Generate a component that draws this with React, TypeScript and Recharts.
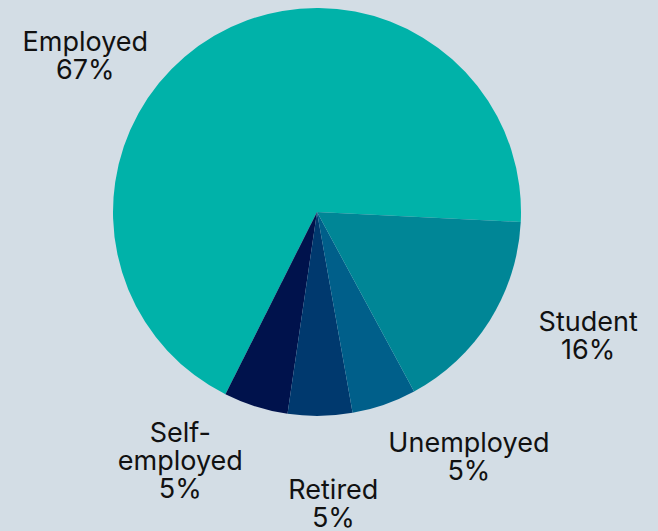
import { PieChart, Pie, Cell } from 'recharts';

// ── data ──────────────────────────────────────────────────────────────
const statuses = ['Employed', 'Self-employed', 'Retired', 'Unemployed', 'Student'];
const shares = [67, 5, 5, 5, 16];

// ── styling ───────────────────────────────────────────────────────────
const COLORS = ['#00B2A9', '#00124C', '#00396E', '#005F8A', '#008696'];
const BG = '#D3DDE5';
const FONT = 'Inter, "DejaVu Sans", sans-serif';
const FS = 27;
const LH = 28;
const LABEL_R = 285;
// hand nudges so the outside labels do not collide / leave the frame
const LABEL_NUDGE: [number, number][] = [
    [-88, 90],
    [-51, -23],
    [12, 7],
    [58, -25],
    [30, -28],
];

const RADIAN = Math.PI / 180;

const data = statuses.map((name, i) => ({ name, value: shares[i] }));

const splitName = (name: string) => {
    // "Self-employed" wraps after the hyphen
    const idx = name.indexOf('-');
    if (idx < 0) return [name];
    return [name.slice(0, idx + 1), name.slice(idx + 1)];
};

const renderLabel = (props: any) => {
    const { cx, cy, midAngle, index, name, value } = props;
    const lines = [...splitName(name), `${value}%`];
    const [nx, ny] = LABEL_NUDGE[index] || [0, 0];
    const x = cx + LABEL_R * Math.cos(-midAngle * RADIAN) + nx;
    const yc = cy + LABEL_R * Math.sin(-midAngle * RADIAN) + ny;
    const firstBase = yc - ((lines.length - 1) * LH) / 2 + FS * 0.35;
    return (
        <text
            key={`lbl-${index}`}
            x={x}
            y={firstBase}
            textAnchor="middle"
            fill="#111111"
            fontFamily={FONT}
            fontSize={FS}
        >
            {lines.map((t, i) => (
                <tspan key={i} x={x} y={firstBase + i * LH}>
                    {t}
                </tspan>
            ))}
        </text>
    );
};

export default function App() {
    return (
        <div style={{ position: 'absolute', left: 0, top: 0, width: 658, height: 531, background: BG }}>
            <PieChart width={658} height={531} margin={{ top: 0, right: 0, bottom: 0, left: 0 }}>
                <Pie
                    data={data}
                    dataKey="value"
                    nameKey="name"
                    cx={317}
                    cy={212}
                    outerRadius={204}
                    startAngle={-2.8}
                    endAngle={357.2}
                    stroke="none"
                    label={renderLabel}
                    labelLine={false}
                    isAnimationActive={false}
                >
                    {data.map((_, i) => (
                        <Cell key={i} fill={COLORS[i]} />
                    ))}
                </Pie>
            </PieChart>
        </div>
    );
}
